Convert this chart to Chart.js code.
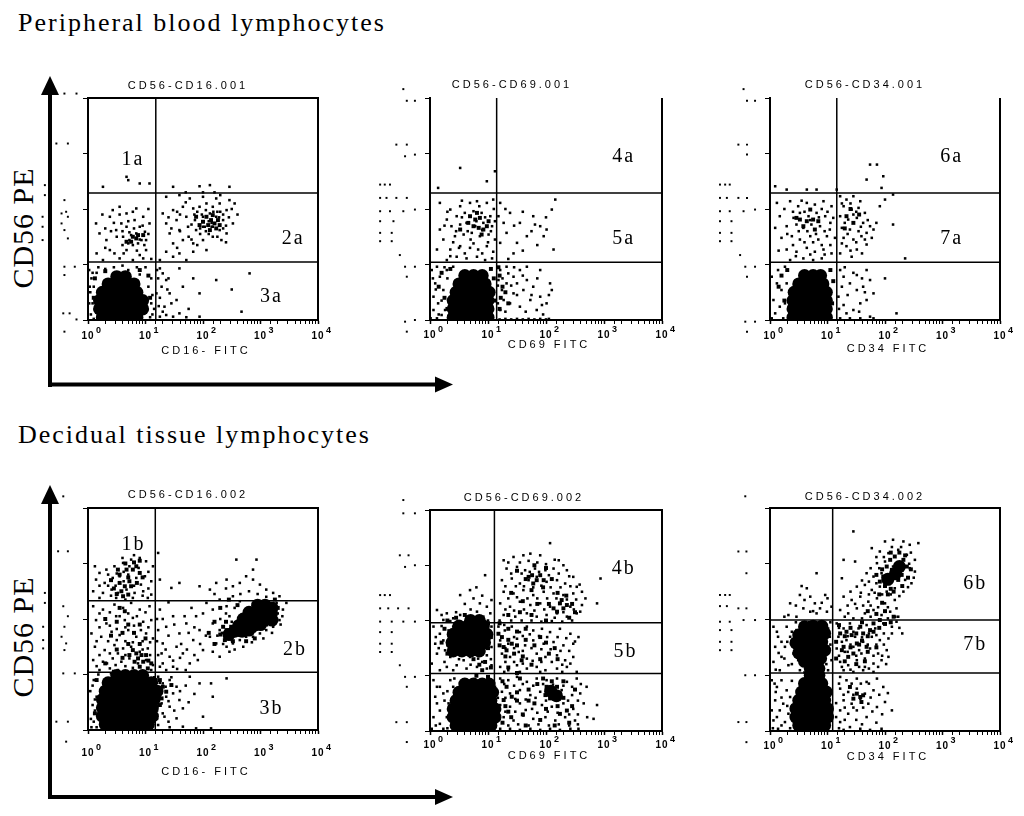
<!DOCTYPE html>
<html>
<head>
<meta charset="utf-8">
<script src="https://cdn.jsdelivr.net/npm/chart.js@4.4.1/dist/chart.umd.min.js"></script>
<style>
  body { margin: 0; background: #fff; width: 1024px; height: 816px; position: relative; overflow: hidden; }
  svg { position: absolute; left: 0; top: 0; }
  canvas { position: absolute; }
</style>
</head>
<body>
<svg width="1024" height="816">
  <g fill="#000">
    <rect x="48" y="92" width="4" height="295"/>
    <polygon points="50,76 41,95 59,95"/>
    <rect x="48" y="382.5" width="390" height="4"/>
    <polygon points="453,384.5 435,376.5 435,392.5"/>
    <rect x="48" y="501" width="4" height="298"/>
    <polygon points="50,485 41,504 59,504"/>
    <rect x="48" y="795" width="390" height="4"/>
    <polygon points="453,797 435,789 435,805"/>
  </g>
  <g font-family="'Liberation Serif', serif" fill="#000">
    <text x="18" y="31" font-size="26" letter-spacing="2">Peripheral blood lymphocytes</text>
    <text x="18" y="443" font-size="26" letter-spacing="2">Decidual tissue lymphocytes</text>
    <text transform="translate(33,228) rotate(-90)" text-anchor="middle" font-size="30" letter-spacing="1">CD56 PE</text>
    <text transform="translate(33,637) rotate(-90)" text-anchor="middle" font-size="30" letter-spacing="1">CD56 PE</text>
  </g>
</svg>
<script>
// events, in decades: [log10 FITC, log10 PE]
// "core" = solid black areas, "dense" = crowded spots, "dots" = single events,
// "off" = events piled up left of the 10^0 channel

const decades = [1, 10, 100, 1000, 10000];
const xTickExponents = ['0', '1', '2', '3', '4'];

// ---- peripheral blood, CD56 / CD16 ----
const pbCd16Gates = [15.1, 11.1, 195];
const pbCd16Core = [
  [0.25,0.05],[0.4,0.05],[0.55,0.05],[0.7,0.05],[0.85,0.05],
  [0.2,0.2],[0.35,0.2],[0.5,0.2],[0.65,0.2],[0.8,0.2],[0.95,0.2],
  [0.2,0.35],[0.35,0.35],[0.5,0.35],[0.65,0.35],[0.8,0.35],[0.95,0.35],
  [0.25,0.5],[0.4,0.5],[0.55,0.5],[0.7,0.5],[0.85,0.5],
  [0.35,0.65],[0.5,0.65],[0.65,0.65],[0.8,0.65],
  [0.5,0.78],[0.65,0.78]
];
const pbCd16Dense = [
  [0.78,1.50],[0.84,1.47],[0.87,1.53],[0.96,1.53],[0.67,1.41],[0.75,1.41],
  [2.06,1.86],[2.14,1.80],[2.20,1.74],[2.09,1.71],[2.23,1.65],[2.00,1.77],
  [2.26,1.80],[2.12,1.62],[1.94,1.71],[2.29,1.71],[1.88,1.86],[2.17,1.89],
  [0.1,0.4],[0.12,0.75],[1.05,0.8],[1.08,0.4],[0.3,0.88],[0.9,0.9]
];
const pbCd16Dots = [
  [0.05,0.1],[0.08,0.3],[0.04,0.5],[0.1,0.6],[0.06,0.75],[0.15,0.85],[0.3,0.92],[0.45,0.95],
  [0.7,0.9],[0.9,0.82],[1.05,0.6],[1.1,0.3],[1.12,0.1],[1.0,0.95],
  [0.02,0.3],[0.03,0.6],[0.08,0.85],[0.18,0.95],[0.6,0.98],[0.85,0.95],[1.1,0.75],[1.12,0.45],
  [1.15,0.2],[1.08,0.05],[0.1,0.02],[0.02,0.9],
  [1.25,0.93],[1.30,0.84],[1.36,0.72],[1.28,0.60],[1.42,0.48],[1.54,0.36],[1.33,0.24],[1.59,0.93],
  [1.83,0.75],[1.94,0.48],[2.23,0.72],[2.81,0.84],[2.67,0.15],[1.48,0.06],[1.71,0.05],[1.94,0.06],
  [1.25,0.06],[1.36,0.09],[1.59,0.12],[1.19,0.48],[1.22,0.75],
  [1.25,0.4],[1.3,0.15],[1.4,0.75],[1.45,0.3],[1.2,0.9],[1.65,0.6],[1.75,0.2],[2.5,0.55],[1.38,0.55],[1.23,0.25],
  [0.38,1.86],[0.55,2.04],[0.67,1.92],[0.84,2.01],[0.96,1.86],[0.20,1.56],[0.32,1.44],[0.49,1.62],
  [0.61,1.50],[0.72,1.44],[0.84,1.56],[0.90,1.68],[0.99,1.59],[1.01,1.44],[0.78,1.35],[0.67,1.26],
  [0.46,1.20],[0.38,1.26],[0.90,1.17],[1.01,1.26],[0.26,1.08],[0.55,1.11],[0.78,1.08],[0.96,1.11],
  [0.14,1.74],[1.07,1.74],[0.67,1.68],[0.81,1.80],[0.93,1.44],[0.75,1.53],[0.87,1.38],[0.70,1.38],
  [0.58,1.74],[0.43,1.98],
  [0.25,1.9],[0.45,1.75],[0.6,1.6],[0.7,1.78],[0.95,1.7],[1.05,1.55],[0.85,1.25],[0.6,1.35],
  [0.3,1.3],[0.5,1.5],[0.8,1.65],[0.72,1.58],[0.9,1.45],[0.98,1.35],[1.1,1.1],[0.15,1.2],
  [0.4,1.6],[0.55,1.9],[0.78,1.95],[1.05,2.0],[0.3,1.65],[0.62,1.2],
  [0.67,2.58],[0.70,2.52],[0.90,2.46],[0.26,2.40],[1.07,2.46],
  [1.48,2.40],[1.94,2.41],[2.12,2.43],[2.46,2.40],
  [1.36,2.22],[1.59,2.25],[1.77,2.19],[2.00,2.22],[2.23,2.19],[2.46,2.16],[2.55,2.10],
  [1.30,1.92],[1.48,1.98],[1.65,2.04],[1.83,2.01],[1.94,2.04],[2.06,2.10],[2.17,2.04],[2.29,2.10],[2.41,1.98],
  [1.36,1.74],[1.54,1.80],[1.71,1.86],[1.86,1.80],[2.00,1.86],[2.12,1.92],[2.23,1.86],[2.35,1.80],[2.52,1.74],
  [1.42,1.56],[1.59,1.62],[1.74,1.68],[1.88,1.62],[2.03,1.68],[2.17,1.68],[2.29,1.62],[2.41,1.56],
  [1.48,1.38],[1.65,1.44],[1.83,1.38],[2.00,1.44],[2.17,1.50],[2.32,1.44],
  [1.36,1.23],[1.59,1.20],[1.83,1.23],[2.06,1.26],[1.25,1.08],[1.71,1.08],[1.48,1.14],
  [1.9,1.95],[2.05,1.98],[2.3,1.95],[1.95,1.55],[2.1,1.55],[2.4,1.7],[1.8,1.72],[1.6,1.9],[2.25,1.5],[1.75,1.5],
  [1.45,1.65],[1.55,1.95],[1.7,2.12],[1.85,1.9],[1.95,1.65],[2.05,1.6],[2.15,1.75],[2.25,1.95],
  [2.35,1.65],[2.45,1.85],[2.6,1.9],[2.5,2.0],[1.8,1.45],[1.9,1.35],[2.4,1.4],[1.55,1.3],
  [2.0,2.3],[2.2,2.3],[1.7,2.3],[2.3,2.25],[1.4,1.85],[1.6,1.6],[2.28,1.85],[2.18,1.95],
  [2.1,1.78],[1.98,1.9],[2.35,1.9],[2.0,1.68],[2.15,1.68]
];
const pbCd16Off = [
  [-0.41,4.08],[-0.20,4.08],[-0.55,3.18],[-0.35,3.18],[-0.41,2.16],[-0.38,1.95],[-0.46,1.92],[-0.41,1.62],
  [-0.35,1.47],[-0.35,1.86],[-0.46,1.74],[-0.41,0.96],[-0.23,0.96],[-0.41,0.81],[-0.43,0.12],[-0.32,0.12],
  [-0.20,0.01],[-0.41,-0.21],[-0.75,2.43],[-0.75,2.25],[-0.79,1.86],[-0.79,1.68],[-0.79,1.44]
];

// ---- peripheral blood, CD56 / CD69 ----
const pbCd69Gates = [14.1, 11, 195];
const pbCd69Core = [
  [0.4,0.05],[0.55,0.05],[0.7,0.05],[0.85,0.05],[1.0,0.05],
  [0.4,0.2],[0.55,0.2],[0.7,0.2],[0.85,0.2],[1.0,0.2],
  [0.4,0.35],[0.55,0.35],[0.7,0.35],[0.85,0.35],[1.0,0.35],
  [0.45,0.5],[0.6,0.5],[0.75,0.5],[0.9,0.5],[1.02,0.5],
  [0.5,0.65],[0.65,0.65],[0.8,0.65],[0.95,0.65],
  [0.6,0.8],[0.75,0.8],[0.9,0.8]
];
const pbCd69Dense = [
  [0.69,1.87],[0.78,1.81],[0.86,1.84],[0.75,1.69],[0.84,1.66],[0.92,1.63],[0.98,1.69],[0.66,1.75],
  [0.89,1.54],[0.81,1.93],[1.01,1.78],[0.52,1.63],
  [1.2,0.8],[1.25,0.6],[1.22,0.4],[1.3,0.5],[1.18,0.95],[1.35,0.3],[1.2,0.2],
  [0.15,0.6],[0.25,0.4],[0.2,0.85],[0.3,0.2],[1.1,0.75],[1.12,0.35],[1.05,0.92],[0.35,0.92]
];
const pbCd69Dots = [
  [0.03,0.90],[0.09,0.66],[0.17,0.78],[0.06,0.42],[0.14,0.30],[0.23,0.54],[0.06,0.18],[0.20,0.09],
  [0.29,0.90],[0.40,0.96],[0.12,0.96],[0.26,0.18],[0.01,0.03],[0.12,0.03],[0.32,0.03],
  [0.1,0.55],[0.2,0.35],[0.05,0.75],[0.3,0.75],[0.15,0.1],[0.25,0.95],
  [1.2,0.01],[1.3,0.02],[1.4,0.01],[1.5,0.02],[1.6,0.01],[1.7,0.02],[1.8,0.01],[1.9,0.02],[2.0,0.01],[2.05,0.02],
  [1.21,0.90],[1.32,0.96],[1.44,0.78],[1.55,0.90],[1.67,0.72],[1.32,0.66],[1.24,0.54],[1.44,0.48],
  [1.61,0.54],[1.78,0.60],[1.90,0.42],[2.07,0.66],[2.10,0.54],[1.73,0.36],[1.38,0.30],[1.55,0.24],
  [1.84,0.18],[1.93,0.27],[1.21,0.18],[1.27,0.36],[1.50,0.66],[1.18,0.72],[1.35,0.84],[1.67,0.96],
  [1.90,0.90],[2.01,0.30],
  [1.25,0.75],[1.4,0.62],[1.5,0.45],[1.6,0.8],[1.75,0.45],[1.85,0.75],[1.45,0.95],[1.3,0.15],
  [1.65,0.15],[1.95,0.1],[2.05,0.45],[1.17,0.62],[1.17,0.3],
  [0.17,2.11],[0.35,1.99],[0.52,2.05],[0.69,2.11],[0.81,2.14],[0.98,2.11],[1.09,2.17],
  [0.29,1.81],[0.46,1.87],[0.60,1.93],[0.75,1.96],[0.89,1.93],[1.04,1.87],[1.12,1.78],
  [0.17,1.63],[0.37,1.69],[0.52,1.72],[0.63,1.75],[0.78,1.69],[0.92,1.75],[1.07,1.69],
  [0.23,1.45],[0.43,1.51],[0.58,1.54],[0.72,1.57],[0.86,1.51],[1.01,1.54],[1.12,1.45],
  [0.12,1.27],[0.35,1.27],[0.52,1.33],[0.69,1.30],[0.83,1.27],[0.98,1.33],[1.09,1.23],
  [0.29,1.08],[0.46,1.14],[0.63,1.11],[0.81,1.14],[0.95,1.08],[1.07,1.11],
  [0.3,1.95],[0.45,1.6],[0.55,1.85],[0.65,1.6],[0.7,1.45],[0.8,1.78],[0.9,1.62],[0.95,1.85],
  [1.05,1.6],[0.4,1.4],[0.6,1.2],[0.9,1.2],[1.0,1.4],[0.25,1.7],[0.55,2.15],[0.85,2.05],
  [1.1,2.0],[0.75,1.38],[0.5,1.3],[0.35,1.15],
  [0.52,2.74],[0.98,2.50],[1.12,2.68],[0.14,2.38],
  [1.21,2.11],[1.38,1.93],[1.55,1.75],[1.78,1.87],[1.90,1.69],[2.01,1.63],[2.10,1.99],[2.16,2.17],
  [1.50,1.39],[1.67,1.51],[1.96,1.51],[2.13,1.27],[1.32,1.57],[1.44,1.20],[1.27,1.75],[1.21,1.39],
  [1.18,1.87],[1.81,1.72],
  [1.3,2.0],[1.45,1.7],[1.6,1.95],[1.75,1.6],[1.85,1.35],[2.0,1.85],[1.6,1.25],[1.35,1.1]
];
const pbCd69Off = [
  [-0.46,4.16],[-0.40,3.95],[-0.26,3.95],[-0.58,3.16],[-0.40,3.16],[-0.43,2.95],[-0.26,2.98],
  [-0.86,2.44],[-0.78,2.44],[-0.69,2.44],[-0.86,2.20],[-0.75,2.20],[-0.58,2.20],[-0.40,2.20],
  [-0.86,1.96],[-0.69,1.96],[-0.46,1.96],[-0.26,1.99],[-0.86,1.78],[-0.63,1.78],[-0.86,1.57],
  [-0.66,1.57],[-0.86,1.42],[-0.66,1.42],[-0.52,1.17],[-0.43,0.96],[-0.26,0.96],[-0.40,0.78],
  [-0.43,-0.03],[-0.26,0.0],[-0.40,-0.21]
];

// ---- peripheral blood, CD56 / CD34 ----
const pbCd34Gates = [14.5, 11, 195];
const pbCd34Core = [
  [0.4,0.05],[0.55,0.05],[0.7,0.05],[0.85,0.05],[0.98,0.05],
  [0.4,0.2],[0.55,0.2],[0.7,0.2],[0.85,0.2],[0.98,0.2],
  [0.4,0.35],[0.55,0.35],[0.7,0.35],[0.85,0.35],[0.98,0.35],
  [0.42,0.5],[0.57,0.5],[0.72,0.5],[0.87,0.5],[0.98,0.5],
  [0.5,0.65],[0.65,0.65],[0.8,0.65],[0.92,0.65],
  [0.6,0.8],[0.75,0.8],[0.88,0.8]
];
const pbCd34Dense = [
  [0.52,1.81],[0.64,1.78],[0.75,1.81],[0.70,1.99],[0.84,1.78],[0.58,1.69],[0.78,1.63],[0.46,1.84],
  [1.33,1.87],[1.45,1.75],[1.40,2.0],[1.55,1.9],[1.30,1.65],
  [0.15,0.6],[0.25,0.35],[0.2,0.8],[1.08,0.3],[1.1,0.7],[0.3,0.9],[1.05,0.9]
];
const pbCd34Dots = [
  [0.03,0.78],[0.12,0.66],[0.20,0.54],[0.06,0.36],[0.17,0.24],[0.09,0.12],[0.26,0.30],[0.03,0.03],
  [0.23,0.03],[0.29,0.66],[0.14,0.90],[0.26,0.96],
  [1.22,0.90],[1.28,0.78],[1.39,0.66],[1.51,0.54],[1.62,0.60],[1.74,0.72],[1.80,0.48],[1.68,0.36],
  [1.57,0.30],[1.45,0.18],[1.33,0.12],[1.74,0.06],[1.22,0.03],[1.39,0.03],[1.57,0.03],[1.80,0.03],
  [2.0,0.75],[2.20,0.12],[1.19,0.42],[1.28,0.27],[1.68,0.90],[1.51,0.81],
  [1.25,0.6],[1.35,0.45],[1.45,0.85],[1.6,0.75],[1.55,0.15],[1.65,0.5],[1.3,0.95],[1.2,0.2],
  [0.09,2.41],[0.29,2.35],[0.64,2.35],[0.81,2.35],[1.16,2.35],
  [0.12,2.11],[0.35,2.14],[0.49,2.05],[0.64,2.11],[0.78,2.08],[0.93,2.14],[1.07,2.05],
  [0.17,1.87],[0.41,1.84],[0.52,1.93],[0.67,1.87],[0.81,1.93],[0.96,1.87],[1.10,1.84],
  [0.09,1.66],[0.29,1.69],[0.46,1.72],[0.58,1.66],[0.72,1.72],[0.87,1.69],[1.04,1.63],
  [0.20,1.48],[0.38,1.51],[0.52,1.45],[0.70,1.51],[0.84,1.45],[0.99,1.51],[1.13,1.48],
  [0.29,1.27],[0.46,1.23],[0.64,1.30],[0.78,1.23],[0.93,1.27],[1.07,1.20],
  [0.35,1.08],[0.58,1.11],[0.75,1.08],[0.90,1.11],
  [0.25,2.0],[0.4,1.95],[0.55,2.15],[0.7,1.8],[0.85,1.85],[1.0,1.95],[0.3,1.55],[0.5,1.6],
  [0.65,1.6],[0.8,1.55],[0.95,1.6],[1.05,1.75],[0.4,1.35],[0.6,1.4],[0.75,1.4],[0.9,1.35],
  [1.05,1.35],[0.45,1.15],[0.7,1.18],[0.95,1.18],[0.15,1.25],[0.6,1.95],[0.9,2.0],
  [1.22,2.23],[1.33,2.17],[1.45,2.23],[1.57,2.14],[1.28,2.05],[1.42,1.99],[1.54,2.02],[1.65,1.93],
  [1.22,1.87],[1.36,1.81],[1.51,1.84],[1.62,1.75],[1.74,1.69],[1.25,1.66],[1.39,1.63],[1.54,1.60],
  [1.68,1.57],[1.80,1.63],[1.28,1.48],[1.45,1.45],[1.59,1.51],[1.77,1.48],[1.33,1.33],[1.51,1.27],
  [1.68,1.36],[1.22,1.20],[1.42,1.14],
  [1.25,2.1],[1.4,2.1],[1.5,1.95],[1.3,1.75],[1.45,1.9],[1.58,1.68],[1.7,1.8],[1.35,1.55],
  [1.5,1.4],[1.65,1.45],[1.25,1.38],[1.4,1.25],[1.6,1.2],[1.85,1.75],
  [1.74,2.80],[1.86,2.80],[1.68,2.53],[1.97,2.59],[1.94,2.38],[2.14,2.26],[2.0,2.17],[1.91,2.05],
  [2.14,1.72],[2.35,1.11]
];
const pbCd34Off = [
  [-0.46,4.16],[-0.40,3.95],[-0.26,3.95],[-0.55,3.16],[-0.40,3.16],[-0.40,2.98],
  [-0.87,2.44],[-0.78,2.44],[-0.70,2.44],[-0.87,2.20],[-0.75,2.20],[-0.55,2.20],[-0.40,2.20],
  [-0.87,1.96],[-0.70,1.96],[-0.46,1.96],[-0.26,1.99],[-0.87,1.78],[-0.67,1.78],[-0.87,1.57],
  [-0.67,1.57],[-0.87,1.42],[-0.67,1.42],[-0.52,1.17],[-0.43,0.96],[-0.26,0.96],[-0.40,0.78],
  [-0.43,-0.03],[-0.26,-0.03],[-0.40,-0.21]
];

// ---- decidual tissue, CD56 / CD16 ----
const dtCd16Gates = [14.8, 11, 214];
const dtCd16Core = [
  [0.3,0.1],[0.45,0.1],[0.6,0.1],[0.75,0.1],[0.9,0.1],[1.05,0.1],
  [0.25,0.25],[0.4,0.25],[0.55,0.25],[0.7,0.25],[0.85,0.25],[1.0,0.25],[1.12,0.25],
  [0.25,0.4],[0.4,0.4],[0.55,0.4],[0.7,0.4],[0.85,0.4],[1.0,0.4],[1.12,0.4],
  [0.25,0.55],[0.4,0.55],[0.55,0.55],[0.7,0.55],[0.85,0.55],[1.0,0.55],[1.15,0.55],
  [0.3,0.7],[0.45,0.7],[0.6,0.7],[0.75,0.7],[0.9,0.7],[1.05,0.7],[1.2,0.7],
  [0.35,0.85],[0.5,0.85],[0.65,0.85],[0.8,0.85],[0.95,0.85],[1.1,0.85],
  [0.5,0.98],[0.65,0.98],[0.8,0.98],[0.95,0.98],
  [2.95,2.25],[3.08,2.25],[3.2,2.2],[2.8,2.12],[2.93,2.12],[3.06,2.12],[3.19,2.1],
  [2.7,2.0],[2.83,2.0],[2.96,2.0],[3.09,2.0],[3.2,1.98],[2.62,1.88],[2.75,1.88],[2.88,1.88],[3.0,1.9],
  [2.55,1.78],[2.68,1.78],[2.8,1.8],[2.45,1.72]
];
const dtCd16Dense = [
  [0.78,1.44],[0.84,1.38],[0.93,1.35],[0.87,1.29],[0.96,1.23],[1.01,1.35],[0.81,1.23],[0.72,1.35],
  [0.90,1.14],[1.04,1.11],[1.10,1.20],[0.55,2.20],[0.64,2.14],
  [0.55,2.65],[0.64,2.59],[0.72,2.68],[0.58,2.50],[0.70,2.44],[0.78,2.89],[0.84,2.95],[0.67,2.89],
  [0.90,2.83],[0.75,2.59],[0.52,2.89],[0.61,2.41],
  [0.45,2.55],[0.55,2.8],[0.7,2.75],[0.85,2.65],[0.95,2.75],[0.4,2.7],[0.65,3.0],[0.8,3.02],[0.9,3.05],[0.5,2.45],
  [0.3,2.0],[0.5,1.95],[0.7,1.9],[0.9,1.9],[0.4,1.7],[0.6,1.75],[0.8,1.75],[1.0,1.65],[0.5,1.45],
  [0.7,1.55],[0.9,1.55],[0.3,1.2],[0.6,1.3],[1.05,1.25],[0.45,1.05],
  [2.41,1.80],[2.49,1.86],[2.55,1.71],[2.64,1.86],[2.70,1.77],[2.46,1.71],[2.35,1.86],[2.61,1.95],
  [2.38,1.62],[2.52,1.6],[2.3,1.72],
  [2.2,1.95],[2.3,2.2],[2.45,2.35],[2.6,2.25],[2.4,1.95],[2.75,1.6],[2.9,1.65],[3.1,1.9],[3.3,2.2],
  [3.25,2.35],[2.1,1.75],[2.2,1.55],
  [1.25,0.90],[1.30,0.78],[1.36,0.69],[1.45,0.81],[1.28,0.57],
  [1.15,0.3],[1.2,0.65],[1.25,0.45],[1.18,0.9],[0.15,0.9],[0.12,0.3]
];
const dtCd16Dots = [
  [0.05,0.2],[0.08,0.45],[0.04,0.7],[0.1,0.9],[0.06,0.05],[0.12,0.35],[0.15,0.6],
  [0.1,0.15],[0.12,0.55],[0.08,0.8],[0.18,1.0],[0.4,1.02],[1.15,0.95],[1.2,0.5],[1.25,0.85],[1.15,0.15],[0.15,0.05],
  [0.09,2.23],[0.26,2.17],[0.46,2.26],[0.61,2.20],[0.75,2.29],[0.90,2.17],[1.07,2.23],
  [0.14,1.98],[0.32,1.92],[0.49,2.05],[0.64,1.98],[0.78,2.02],[0.96,1.95],[1.10,1.98],
  [0.06,1.74],[0.23,1.68],[0.41,1.77],[0.55,1.71],[0.70,1.80],[0.84,1.68],[1.01,1.74],[1.13,1.65],
  [0.12,1.50],[0.29,1.44],[0.46,1.53],[0.61,1.47],[0.75,1.50],[0.90,1.41],[1.04,1.47],
  [0.09,1.26],[0.26,1.23],[0.43,1.29],[0.58,1.23],[0.72,1.29],[0.87,1.20],[1.01,1.26],[1.13,1.17],
  [0.20,1.08],[0.38,1.11],[0.52,1.08],
  [0.2,2.1],[0.38,2.12],[0.55,2.05],[0.7,2.1],[0.85,2.05],[1.0,2.12],[0.2,1.85],[0.38,1.88],
  [0.5,1.82],[0.65,1.85],[0.8,1.88],[0.92,1.8],[1.05,1.85],[0.15,1.6],[0.35,1.6],[0.5,1.62],
  [0.65,1.6],[0.78,1.58],[0.95,1.6],[1.08,1.58],[0.2,1.35],[0.38,1.38],[0.52,1.38],[0.65,1.35],
  [0.95,1.45],[1.08,1.35],[0.15,1.15],[0.33,1.2],[0.48,1.17],[0.65,1.15],[0.78,1.12],[0.98,1.05],[1.1,1.08],
  [0.12,2.95],[0.20,2.83],[0.32,2.89],[0.46,2.95],[0.61,3.01],[0.75,3.07],[0.90,3.10],[1.01,3.04],
  [1.13,2.95],[1.22,3.19],
  [0.14,2.71],[0.29,2.65],[0.43,2.74],[0.55,2.77],[0.70,2.80],[0.84,2.74],[0.99,2.77],[1.10,2.68],
  [0.09,2.50],[0.26,2.47],[0.41,2.53],[0.52,2.47],[0.67,2.53],[0.81,2.47],[0.96,2.50],[1.10,2.44],
  [0.20,2.38],[0.49,2.38],[0.78,2.38],[1.04,2.38],
  [0.2,2.6],[0.35,2.6],[0.48,2.6],[0.62,2.68],[0.8,2.6],[0.92,2.62],[1.05,2.55],[0.35,2.8],
  [0.5,2.82],[0.62,2.85],[0.72,2.95],[0.88,2.92],[1.05,2.85],[0.6,3.1],[0.8,3.15],[0.95,2.42],
  [0.4,2.42],[0.65,2.35],
  [1.94,2.59],[2.12,2.53],[2.23,2.65],[2.41,2.71],[2.52,2.59],[2.64,2.65],[2.75,2.77],[2.87,2.71],
  [2.99,2.62],[3.10,2.53],[3.22,2.47],[3.33,2.41],[3.45,2.29],[3.39,2.17],[2.58,3.07],[2.93,3.07],[2.87,2.89],
  [2.06,2.29],[2.17,2.17],[2.29,2.35],[2.41,2.23],[2.52,2.41],[2.64,2.32],[2.46,2.05],[2.17,1.92],
  [2.29,1.80],[2.12,1.68],[2.23,1.56],[2.41,1.50],[2.52,1.56],[2.64,1.62],[2.75,1.68],[2.87,1.68],
  [2.99,1.74],[3.10,1.80],[3.22,1.86],[3.33,1.98],[3.28,2.29],[2.29,1.32],[2.46,1.41],[2.17,1.41],
  [2.58,1.80],[2.38,1.68],
  [2.3,2.0],[2.4,2.1],[2.5,1.95],[2.55,2.2],[2.65,2.45],[2.8,2.5],[2.95,2.45],[3.1,2.4],
  [3.3,2.1],[3.35,1.9],[3.2,1.75],[3.05,1.65],[2.85,1.58],[2.7,1.5],[2.55,1.45],[2.35,1.55],
  [2.25,1.7],[2.33,1.75],[2.5,1.62],[2.62,1.7],[2.78,1.72],[2.9,1.78],[3.38,2.05],[2.2,2.45],[2.4,2.55],
  [1.25,2.17],[1.36,1.86],[1.48,2.05],[1.59,1.74],[1.71,1.92],[1.83,1.62],[1.94,1.80],[1.30,1.56],
  [1.42,1.32],[1.54,1.50],[1.65,1.38],[1.77,1.20],[1.25,1.14],[1.36,1.08],[1.48,1.14],[1.68,2.05],
  [1.88,2.05],[2.00,1.44],[1.91,1.26],[1.22,1.80],[1.28,1.38],[1.59,2.65],[1.45,2.56],[1.25,2.71],
  [1.3,2.0],[1.4,1.7],[1.5,1.9],[1.62,1.55],[1.75,1.75],[1.85,1.85],[1.95,1.55],[2.05,1.7],
  [1.35,1.45],[1.48,1.25],[1.6,1.3],[1.72,1.45],[1.85,1.35],[1.3,1.2],[1.55,1.1],[1.7,1.08],
  [1.4,2.3],[1.8,2.2],[2.0,2.1],[1.2,1.6],[1.22,1.35],[1.2,2.0],
  [1.22,0.96],[1.30,0.84],[1.42,0.90],[1.54,0.78],[1.25,0.72],[1.36,0.60],[1.48,0.66],[1.59,0.54],
  [1.28,0.48],[1.42,0.42],[1.65,0.39],[1.33,0.24],[1.54,0.21],[1.77,0.96],[1.94,0.84],[2.14,0.84],
  [2.17,0.60],[2.41,0.93],[2.14,0.03],[2.00,0.24],[1.22,0.09],[1.42,0.05],[1.65,0.06],[1.88,0.03],
  [1.2,0.85],[1.25,0.6],[1.35,0.78],[1.4,0.52],[1.45,0.95],[1.5,0.35],[1.6,0.7],[1.7,0.8],
  [1.2,0.35],[1.3,0.3],[1.4,0.15],[1.75,0.5],[1.85,0.65],[1.2,0.2]
];
const dtCd16Off = [
  [-0.52,3.22],[-0.35,3.22],[-0.43,2.23],[-0.35,2.05],[-0.41,1.86],[-0.46,1.68],[-0.38,1.56],
  [-0.41,1.44],[-0.43,1.02],[-0.23,1.02],[-0.55,0.15],[-0.35,0.15],[-0.38,-0.21],[-0.75,2.47],
  [-0.75,2.29],[-0.78,1.86],[-0.78,1.62],[-0.78,1.47],[-0.43,4.21]
];

// ---- decidual tissue, CD56 / CD69 ----
const dtCd69Gates = [12.9, 11, 91];
const dtCd69Core = [
  [0.4,1.45],[0.55,1.45],[0.7,1.45],[0.85,1.45],
  [0.38,1.6],[0.52,1.6],[0.66,1.6],[0.8,1.6],[0.94,1.6],
  [0.4,1.75],[0.55,1.75],[0.7,1.75],[0.85,1.75],[0.98,1.75],
  [0.5,1.9],[0.65,1.9],[0.8,1.9],[0.92,1.9],[0.7,2.0],[0.85,2.0],
  [0.45,0.1],[0.6,0.1],[0.75,0.1],[0.9,0.1],[1.05,0.1],
  [0.4,0.25],[0.55,0.25],[0.7,0.25],[0.85,0.25],[1.0,0.25],[1.12,0.25],
  [0.4,0.4],[0.55,0.4],[0.7,0.4],[0.85,0.4],[1.0,0.4],[1.12,0.4],
  [0.45,0.55],[0.6,0.55],[0.75,0.55],[0.9,0.55],[1.05,0.55],
  [0.5,0.7],[0.65,0.7],[0.8,0.7],[0.95,0.7],[1.08,0.7],
  [0.6,0.85],[0.75,0.85],[0.9,0.85],[1.02,0.85],
  [2.08,0.72],[2.18,0.64]
];
const dtCd69Dense = [
  [1.76,2.82],[1.84,2.73],[1.90,2.82],[1.78,2.67],[1.96,2.73],[1.70,2.79],[2.24,2.31],[2.30,2.22],
  [2.36,2.28],[2.19,2.16],[2.27,2.37],[2.13,2.22],
  [1.5,2.9],[1.65,2.75],[1.75,2.55],[1.95,2.6],[2.1,2.75],[2.2,2.5],[2.35,2.45],[2.45,2.3],
  [2.5,2.15],[1.4,2.5],[1.6,2.35],[1.85,2.3],[2.05,2.3],[1.55,2.15],[1.75,2.1],[2.0,2.0],
  [1.35,2.1],[2.4,2.05],[1.8,3.0],[2.0,2.95],
  [1.18,1.76],[1.24,1.70],[1.27,1.52],[1.32,1.46],[1.41,1.58],[1.58,1.28],
  [1.2,1.95],[1.35,1.85],[1.5,1.8],[1.65,1.85],[1.2,1.55],[1.35,1.65],[1.5,1.55],[1.65,1.65],
  [1.8,1.55],[1.3,1.35],[1.45,1.4],[1.6,1.35],[1.75,1.2],[1.9,1.3],[2.05,1.4],[2.2,1.3],
  [1.35,1.15],[1.5,1.05],[2.0,1.6],[2.15,1.5],[1.9,1.7],
  [0.2,1.6],[0.3,1.4],[0.25,1.85],[1.0,1.5],[1.05,1.7],[1.0,1.95],[0.3,2.0],[0.45,2.05],[0.6,2.1],
  [0.8,1.0],[0.9,1.1],[0.95,1.25],[1.0,0.98],[0.85,1.2],[1.05,1.15],[0.75,1.3],
  [2.01,0.80],[2.10,0.74],[2.16,0.62],[2.07,0.59],[2.24,0.68],[2.19,0.80],[1.99,0.65],[1.32,0.80],
  [1.41,0.62],[1.27,0.56],[2.24,0.31],[2.36,0.37],[1.5,0.7],[1.7,0.55],[1.85,0.85],[1.35,0.35],
  [1.25,0.9],[1.3,0.45],[1.4,0.25],[1.5,0.55],[1.6,0.3],[1.7,0.75],[1.8,0.5],[1.9,0.2],
  [2.0,0.4],[2.1,0.9],[2.2,0.45],[2.3,0.6],[2.4,0.15],[2.45,0.45],[2.5,0.75],[2.3,0.9],
  [1.55,0.95],[1.95,0.95],[1.25,0.15],[1.65,0.1],[2.15,0.1]
];
const dtCd69Dots = [
  [1.27,3.09],[1.44,3.15],[1.61,3.18],[1.73,3.21],[1.90,3.18],[2.07,3.40],[2.22,3.09],[2.30,3.00],
  [1.32,2.94],[1.50,2.97],[1.64,2.91],[1.81,2.94],[1.99,2.91],[2.13,2.94],[2.36,2.91],[2.47,2.79],
  [1.24,2.73],[1.41,2.76],[1.55,2.67],[1.70,2.73],[1.84,2.79],[2.01,2.70],[2.19,2.73],[2.33,2.67],[2.53,2.61],
  [1.27,2.52],[1.44,2.49],[1.61,2.55],[1.78,2.46],[1.96,2.52],[2.13,2.49],[2.30,2.46],[2.47,2.49],[2.62,2.52],
  [1.21,2.31],[1.38,2.25],[1.55,2.34],[1.73,2.28],[1.90,2.31],[2.07,2.25],[2.24,2.31],[2.42,2.25],[2.59,2.16],
  [1.27,2.10],[1.47,2.07],[1.67,2.13],[1.84,2.07],[2.01,2.10],[2.19,2.13],[2.36,2.07],[2.53,2.13],
  [2.94,2.76],[2.88,2.31],
  [1.35,3.05],[1.55,3.05],[1.7,3.08],[1.85,3.05],[2.0,3.02],[2.15,3.1],[1.4,2.85],[1.58,2.85],
  [1.72,2.88],[1.88,2.88],[2.05,2.82],[2.22,2.85],[2.4,2.8],[1.3,2.62],[1.48,2.62],[1.62,2.62],
  [1.78,2.6],[1.92,2.63],[2.08,2.6],[2.25,2.6],[2.42,2.62],[2.58,2.65],[1.35,2.4],[1.5,2.42],
  [1.68,2.4],[1.85,2.4],[2.02,2.4],[2.18,2.4],[2.36,2.38],[2.52,2.38],[2.68,2.4],[1.3,2.2],
  [1.45,2.18],[1.62,2.2],[1.8,2.18],[1.97,2.2],[2.15,2.05],[2.3,2.15],[2.48,2.2],[2.62,2.28],
  [1.2,2.0],[1.4,2.0],[1.58,2.0],[1.75,2.0],[1.92,1.98],[2.1,1.99],[2.28,1.98],[2.45,2.0],
  [0.52,2.46],[0.69,2.55],[0.75,2.40],[0.95,2.82],[0.86,2.31],[0.98,2.25],[0.12,2.19],[0.29,2.13],
  [0.52,2.10],[0.81,2.16],[1.04,2.13],[0.63,2.07],[0.40,2.04],[0.23,2.01],[0.92,2.07],[1.06,2.37],
  [0.2,2.1],[0.45,2.15],[0.7,2.2],[0.9,2.45],[1.0,2.0],[0.6,2.3],[0.35,1.99],[0.8,2.6],
  [0.06,1.89],[0.17,1.76],[0.09,1.58],[0.23,1.64],[0.32,1.82],[0.40,1.89],[0.12,1.40],[0.26,1.46],
  [0.35,1.34],[0.46,1.40],[0.58,1.28],[0.69,1.34],[0.83,1.31],[0.98,1.37],[1.06,1.52],[1.04,1.76],
  [1.06,1.89],[0.98,1.92],[0.52,1.89],[0.29,1.16],[0.46,1.19],[0.63,1.13],[0.81,1.16],[0.98,1.13],
  [0.17,1.10],[0.03,1.22],[0.40,1.58],[1.06,1.19],
  [0.15,1.5],[0.3,1.55],[0.35,1.75],[0.45,1.5],[0.5,1.3],[0.65,1.45],[0.8,1.42],[0.95,1.5],
  [1.0,1.65],[0.95,1.85],[0.45,1.85],[0.25,1.25],[0.4,1.1],[0.7,1.2],[0.9,1.25],[1.05,1.3],
  [0.2,1.9],[0.55,1.4],[0.85,1.95],[0.1,1.7],
  [1.18,1.89],[1.29,1.82],[1.41,1.89],[1.55,1.79],[1.67,1.89],[1.78,1.82],[1.93,1.85],[2.07,1.79],
  [2.24,1.85],[2.42,1.76],[2.56,1.70],
  [1.21,1.64],[1.35,1.58],[1.50,1.67],[1.64,1.55],[1.78,1.64],[1.96,1.58],[2.13,1.61],[2.30,1.55],[2.47,1.58],
  [1.24,1.40],[1.38,1.34],[1.53,1.43],[1.67,1.31],[1.84,1.40],[1.99,1.34],[2.19,1.37],[2.33,1.28],[2.47,1.34],
  [1.21,1.16],[1.35,1.10],[1.50,1.19],[1.67,1.13],[1.84,1.16],[1.99,1.10],[2.19,1.13],[2.36,1.16],[2.53,1.07],
  [1.28,1.92],[1.45,1.7],[1.6,1.72],[1.72,1.75],[1.88,1.72],[2.02,1.7],[2.2,1.7],[2.35,1.68],
  [2.5,1.62],[1.3,1.5],[1.45,1.5],[1.6,1.45],[1.75,1.5],[1.92,1.48],[2.08,1.48],[2.25,1.45],
  [2.4,1.45],[1.3,1.25],[1.45,1.25],[1.6,1.22],[1.77,1.27],[1.92,1.25],[2.1,1.25],[2.28,1.2],
  [2.42,1.22],[1.28,1.07],[1.55,1.07],[1.9,1.07],[2.28,1.07],
  [1.21,0.95],[1.35,0.92],[1.50,0.98],[1.67,0.89],[1.84,0.95],[2.01,0.92],[2.19,0.95],[2.36,0.89],[2.53,0.95],
  [1.24,0.71],[1.38,0.68],[1.55,0.74],[1.73,0.65],[1.90,0.71],[2.10,0.68],[2.27,0.74],[2.45,0.65],[2.59,0.68],
  [1.21,0.47],[1.38,0.44],[1.55,0.50],[1.76,0.40],[1.93,0.47],[2.10,0.44],[2.30,0.50],[2.47,0.40],
  [1.27,0.25],[1.44,0.19],[1.61,0.28],[1.78,0.22],[1.99,0.25],[2.16,0.19],[2.33,0.25],[2.50,0.19],
  [1.21,0.04],[1.38,0.04],[1.55,0.02],[1.73,0.04],[1.90,0.02],[2.07,0.04],[2.24,0.02],[2.42,0.04],[2.56,0.04],
  [2.88,0.47],[2.82,0.22],[2.71,0.25],
  [1.28,0.85],[1.45,0.82],[1.6,0.85],[1.78,0.82],[1.95,0.85],[2.12,0.84],[2.3,0.82],[2.45,0.8],
  [2.6,0.85],[1.3,0.6],[1.47,0.58],[1.65,0.57],[1.82,0.6],[2.0,0.55],[2.2,0.56],[2.38,0.55],
  [2.55,0.55],[1.3,0.35],[1.47,0.35],[1.65,0.38],[1.85,0.33],[2.03,0.35],[2.2,0.33],[2.4,0.3],
  [2.55,0.3],[1.35,0.1],[1.52,0.12],[1.7,0.1],[1.87,0.12],[2.05,0.1],[2.22,0.12],[2.4,0.1],
  [2.55,0.12],[2.65,0.5],[2.7,0.8],[1.17,0.6],[1.17,0.3],
  [0.06,0.92],[0.17,0.80],[0.09,0.62],[0.23,0.68],[0.32,0.50],[0.17,0.37],[0.06,0.25],[0.29,0.25],
  [0.17,0.13],[0.37,0.10],[0.03,0.04],[0.23,0.04],[0.35,0.92],[0.40,0.80],
  [0.12,0.5],[0.25,0.55],[0.12,0.8],[0.3,0.72],[0.1,0.1],[0.3,0.05],[0.42,0.95],[1.12,0.8]
];
const dtCd69Off = [
  [-0.46,4.18],[-0.46,3.94],[-0.26,3.94],[-0.52,3.18],[-0.37,3.18],[-0.43,2.97],[-0.26,3.00],
  [-0.86,2.46],[-0.78,2.46],[-0.69,2.46],[-0.86,2.22],[-0.72,2.22],[-0.55,2.22],[-0.37,2.22],
  [-0.86,1.98],[-0.66,1.98],[-0.46,1.98],[-0.26,1.98],[-0.86,1.79],[-0.66,1.79],[-0.86,1.58],
  [-0.66,1.58],[-0.86,1.43],[-0.66,1.43],[-0.52,1.19],[-0.43,0.98],[-0.26,0.98],[-0.40,0.80],
  [-0.58,0.16],[-0.40,0.16],[-0.40,-0.20]
];

// ---- decidual tissue, CD56 / CD34 ----
const dtCd34Gates = [12.3, 11, 98];
const dtCd34Core = [
  [0.5,0.1],[0.65,0.1],[0.8,0.1],[0.95,0.1],
  [0.45,0.25],[0.6,0.25],[0.75,0.25],[0.9,0.25],[1.0,0.25],
  [0.45,0.4],[0.6,0.4],[0.75,0.4],[0.9,0.4],[1.0,0.4],
  [0.5,0.55],[0.65,0.55],[0.8,0.55],[0.95,0.55],
  [0.55,0.7],[0.7,0.7],[0.85,0.7],[0.98,0.7],
  [0.6,0.85],[0.75,0.85],[0.9,0.85],
  [0.7,1.0],[0.85,1.0],[0.7,1.12],[0.85,1.12],
  [0.6,1.25],[0.75,1.25],[0.88,1.3],[0.5,1.4],[0.65,1.4],[0.8,1.42],[0.95,1.45],
  [0.45,1.58],[0.6,1.55],[0.75,1.58],[0.9,1.6],[0.5,1.72],[0.65,1.72],[0.8,1.75],[0.95,1.75],
  [0.6,1.87],[0.75,1.88],[0.9,1.88],
  [2.05,2.72],[2.18,2.82],[2.25,2.95]
];
const dtCd34Dense = [
  [2.03,2.95],[2.12,2.89],[2.20,2.98],[2.26,2.86],[2.32,3.07],[2.14,2.77],[2.23,2.71],[2.06,2.65],
  [2.17,3.13],[2.38,2.95],[1.97,2.77],[2.29,2.80],[1.91,2.68],[2.09,3.07],
  [1.9,2.45],[2.0,2.6],[2.15,2.5],[2.3,2.6],[2.4,2.75],[2.45,2.9],[2.35,3.15],[2.25,3.2],
  [2.1,3.2],[1.95,2.9],[1.85,2.8],
  [0.52,1.75],[0.61,1.69],[0.70,1.78],[0.78,1.72],[0.64,1.60],[0.75,1.57],[0.84,1.66],[0.87,1.87],
  [0.96,1.78],[0.72,1.39],[0.81,1.27],[0.75,1.15],[0.87,1.21],[0.64,1.24],[0.46,1.69],[0.58,1.84],[0.93,1.39],
  [1.22,1.75],[1.33,1.78],[1.42,1.72],[1.51,1.57],[1.62,1.75],[1.74,1.81],[1.80,1.93],[1.68,1.51],
  [1.28,1.51],[1.45,1.39],[1.57,1.87],[1.91,1.99],[1.36,1.33],
  [1.2,1.9],[1.3,1.7],[1.4,1.85],[1.5,1.75],[1.6,1.62],[1.7,1.7],[1.8,1.78],[1.9,1.85],
  [2.0,1.92],[1.25,1.45],[1.4,1.5],[1.55,1.55],[1.7,1.42],[1.85,1.5],[1.3,1.25],[1.5,1.2],
  [1.65,1.25],[1.15,1.6],[1.15,1.3],[2.1,1.95],[2.15,2.05],[2.0,2.15],[1.85,2.1],[1.95,2.3],
  [2.05,2.45],[2.1,2.55],[1.7,2.15],[1.6,1.95],
  [1.51,0.67],[1.57,0.61],[1.62,0.64],[1.45,0.58],[1.59,0.52],[1.39,0.79]
];
const dtCd34Dots = [
  [1.45,3.58],[1.77,3.28],[2.00,3.40],[2.14,3.43],[2.32,3.40],[2.43,3.34],[2.58,3.37],
  [1.91,3.22],[2.06,3.19],[2.23,3.25],[2.38,3.16],[2.52,3.07],
  [1.86,3.01],[2.00,3.04],[2.14,2.95],[2.29,3.01],[2.43,2.92],[2.52,2.86],
  [1.68,2.83],[1.80,2.77],[1.94,2.83],[2.06,2.74],[2.20,2.80],[2.35,2.71],[2.46,2.65],
  [1.51,2.59],[1.65,2.62],[1.77,2.53],[1.91,2.59],[2.03,2.50],[2.17,2.56],[2.32,2.50],
  [1.28,2.41],[1.42,2.35],[1.57,2.41],[1.71,2.32],[1.86,2.38],[2.00,2.29],[2.17,2.35],
  [1.22,2.17],[1.36,2.11],[1.51,2.20],[1.65,2.11],[1.80,2.17],[1.94,2.08],[2.09,2.14],[2.23,2.05],
  [1.28,3.07],[1.48,3.04],[1.25,2.74],[0.81,2.83],
  [1.85,3.12],[1.98,3.12],[2.12,3.3],[2.28,3.3],[2.45,3.2],[1.75,2.92],[1.9,2.92],[2.42,3.0],
  [2.5,2.75],[1.6,2.7],[1.72,2.68],[1.85,2.65],[2.4,2.58],[1.58,2.48],[1.72,2.45],[1.82,2.48],
  [1.95,2.45],[2.1,2.45],[2.25,2.42],[1.35,2.25],[1.48,2.28],[1.62,2.25],[1.75,2.25],[1.88,2.22],
  [2.05,2.22],[2.2,2.2],[1.4,2.5],[1.3,2.05],[1.45,2.02],[1.6,2.02],[1.75,2.05],[1.9,2.0],[2.05,2.02],[2.18,2.05],
  [0.64,2.56],[0.52,2.44],[0.70,2.41],[0.35,2.29],[0.58,2.20],[0.78,2.29],[0.96,2.44],[0.99,2.14],
  [0.81,2.11],[0.32,2.08],[0.46,2.05],[0.70,2.14],[0.87,2.20],[1.07,2.23],
  [0.45,2.25],[0.6,2.35],[0.75,2.15],[0.9,2.3],[0.55,2.6],[0.25,2.05],[1.0,2.38],
  [0.06,1.87],[0.14,1.69],[0.09,1.51],[0.20,1.33],[0.06,1.24],[0.29,1.87],[0.35,1.69],[0.26,1.51],
  [0.41,1.39],[0.32,1.18],[0.46,1.81],[0.52,1.63],[0.58,1.48],[0.49,1.27],[0.64,1.87],[0.72,1.69],
  [0.67,1.51],[0.75,1.33],[0.70,1.15],[0.84,1.81],[0.90,1.63],[0.81,1.45],[0.93,1.30],[0.87,1.12],
  [1.01,1.84],[1.04,1.69],[0.99,1.48],[1.07,1.27],[1.01,1.09],[0.17,1.09],[0.52,1.09],
  [0.12,1.78],[0.2,1.6],[0.15,1.4],[0.3,1.6],[0.25,1.3],[0.38,1.78],[0.42,1.5],[0.38,1.2],
  [0.55,1.55],[0.6,1.35],[0.55,1.2],[0.68,1.95],[0.8,1.5],[0.95,1.7],[1.05,1.55],[0.98,1.2],
  [0.6,1.05],[0.85,1.4],[0.1,1.1],[0.45,1.95],[0.75,1.95],[1.05,1.95],
  [1.16,1.93],[1.28,1.84],[1.39,1.93],[1.54,1.84],[1.68,1.90],[1.83,1.84],[1.97,1.93],[2.12,1.87],[2.20,1.96],
  [1.19,1.69],[1.33,1.63],[1.48,1.69],[1.62,1.60],[1.77,1.69],[1.91,1.63],[2.06,1.66],
  [1.16,1.48],[1.30,1.42],[1.45,1.51],[1.59,1.39],[1.74,1.48],[1.88,1.39],[2.03,1.45],
  [1.22,1.24],[1.36,1.18],[1.51,1.27],[1.65,1.15],[1.80,1.21],[1.94,1.27],[2.06,1.33],
  [1.28,1.09],[1.45,1.06],[1.62,1.09],[1.80,1.06],
  [1.2,1.85],[1.35,1.7],[1.45,1.78],[1.6,1.68],[1.72,1.75],[1.85,1.72],[1.98,1.75],[2.12,1.75],
  [1.25,1.6],[1.4,1.55],[1.55,1.45],[1.7,1.55],[1.85,1.55],[1.98,1.55],[1.2,1.35],[1.35,1.42],
  [1.5,1.35],[1.65,1.3],[1.8,1.35],[1.95,1.35],[1.25,1.15],[1.4,1.1],[1.55,1.15],[1.72,1.12],
  [1.88,1.15],[2.02,1.2],[2.25,1.85],[2.3,1.75],
  [1.22,0.97],[1.33,0.91],[1.51,0.94],[1.68,0.88],[1.86,0.94],[1.22,0.76],[1.36,0.70],[1.51,0.76],
  [1.65,0.67],[1.80,0.73],[1.97,0.79],[1.28,0.55],[1.42,0.49],[1.57,0.58],[1.71,0.49],[1.86,0.43],
  [2.00,0.52],[2.12,0.37],[1.22,0.37],[1.36,0.31],[1.51,0.37],[1.68,0.25],[1.22,0.16],[1.39,0.07],
  [1.57,0.04],[1.74,0.02],[1.94,0.04],[1.28,0.02],
  [1.2,0.85],[1.28,0.65],[1.42,0.85],[1.45,0.65],[1.58,0.85],[1.72,0.85],[1.75,0.6],[1.9,0.65],
  [2.05,0.68],[1.3,0.42],[1.45,0.42],[1.62,0.42],[1.78,0.35],[1.95,0.3],[1.3,0.2],[1.5,0.2],
  [1.6,0.12],[1.85,0.15],[1.2,0.05],[1.15,0.5],[1.15,0.25],
  [0.03,0.91],[0.12,0.79],[0.20,0.91],[0.29,0.73],[0.09,0.55],[0.23,0.49],[0.17,0.37],[0.06,0.19],
  [0.26,0.16],[0.14,0.04],[0.32,0.31],[0.03,0.37],[0.35,0.61],
  [0.1,0.7],[0.2,0.6],[0.3,0.45],[0.12,0.25],[0.2,0.1],[0.35,0.05],[0.08,0.85],[0.38,0.9],[0.05,0.05]
];
const dtCd34Off = [
  [-0.43,4.21],[-0.55,3.22],[-0.41,3.22],[-0.41,2.83],[-0.87,2.44],[-0.78,2.44],[-0.70,2.44],
  [-0.87,2.24],[-0.75,2.24],[-0.55,2.20],[-0.41,2.20],[-0.87,1.96],[-0.70,1.96],[-0.46,1.99],
  [-0.26,1.99],[-0.87,1.81],[-0.67,1.81],[-0.87,1.60],[-0.67,1.60],[-0.87,1.45],[-0.67,1.45],
  [-0.43,1.00],[-0.26,1.00],[-0.55,0.16],[-0.41,0.16],[-0.41,-0.20]
];

// ---- layout of the six panels (plot area in page pixels) ----
const panels = [
  { area: [88, 98, 318, 320], title: 'CD56-CD16.001', titleShift: -15, titleUp: 12, xTitle: 'CD16- FITC', xTitleDown: 31, tickTop: 13, box: true,
    gates: pbCd16Gates, core: pbCd16Core, dense: pbCd16Dense, dots: pbCd16Dots, off: pbCd16Off,
    labels: [['1a', 0.78, 2.88], ['2a', 3.57, 1.47], ['3a', 3.19, 0.42]] },
  { area: [430, 98, 662, 320], title: 'CD56-CD69.001', titleShift: -34, titleUp: 13, xTitle: 'CD69 FITC', xTitleDown: 25, tickTop: 12, box: false,
    gates: pbCd69Gates, core: pbCd69Core, dense: pbCd69Dense, dots: pbCd69Dots, off: pbCd69Off,
    labels: [['4a', 3.34, 2.94], ['5a', 3.34, 1.47]] },
  { area: [770, 98, 1000, 320], title: 'CD56-CD34.001', titleShift: -20, titleUp: 13, xTitle: 'CD34 FITC', xTitleDown: 29, tickTop: 13, box: false,
    gates: pbCd34Gates, core: pbCd34Core, dense: pbCd34Dense, dots: pbCd34Dots, off: pbCd34Off,
    labels: [['6a', 3.16, 2.94], ['7a', 3.16, 1.47]] },
  { area: [88, 508, 318, 730], title: 'CD56-CD16.002', titleShift: -15, titleUp: 13, xTitle: 'CD16- FITC', xTitleDown: 42, tickTop: 20, box: true,
    gates: dtCd16Gates, core: dtCd16Core, dense: dtCd16Dense, dots: dtCd16Dots, off: dtCd16Off,
    labels: [['1b', 0.79, 3.33], ['2b', 3.6, 1.44], ['3b', 3.19, 0.39]] },
  { area: [430, 510, 662, 731], title: 'CD56-CD69.002', titleShift: -22, titleUp: 12, xTitle: 'CD69 FITC', xTitleDown: 25, tickTop: 11, box: true,
    gates: dtCd69Gates, core: dtCd69Core, dense: dtCd69Dense, dots: dtCd69Dots, off: dtCd69Off,
    labels: [['4b', 3.34, 2.94], ['5b', 3.37, 1.43]] },
  { area: [770, 508, 1000, 731], title: 'CD56-CD34.002', titleShift: -20, titleUp: 11, xTitle: 'CD34 FITC', xTitleDown: 26, tickTop: 12, box: true,
    gates: dtCd34Gates, core: dtCd34Core, dense: dtCd34Dense, dots: dtCd34Dots, off: dtCd34Off,
    labels: [['6b', 3.57, 2.65], ['7b', 3.57, 1.54]] }
];

const M = { left: 60, top: 32, right: 24, bottom: 58 };
const Y_AXIS_W = 8, X_AXIS_H = 26;
const OFF_INDEX = 6;

const dec = v => Math.pow(10, v);
const toPoints = list => list.map(([lx, ly]) => ({ x: dec(lx), y: dec(ly) }));
const isDecade = v => Math.abs(Math.log10(v) - Math.round(Math.log10(v))) < 1e-6;

function gateLine(data) {
  return { data, showLine: true, borderColor: '#000', borderWidth: 1.5, pointRadius: 0, order: 0 };
}

function events(list, r, style) {
  return {
    data: toPoints(list), pointRadius: r, pointStyle: style,
    pointBackgroundColor: '#000', pointBorderColor: '#000', pointBorderWidth: 0, order: 1
  };
}

function decor(p) {
  return {
    id: 'decor',
    afterDatasetsDraw(chart) {
      // off-scale events sit left of the axis, outside the plot area
      const wide = { left: -1e4, top: -1e4, right: 1e4, bottom: 1e4 };
      chart.getDatasetMeta(OFF_INDEX).data.forEach(pt => pt.draw(chart.ctx, wide));
    },
    afterDraw(chart) {
      const { ctx, chartArea: a, scales: { x, y } } = chart;
      const mid = (a.left + a.right) / 2;
      ctx.save();
      ctx.strokeStyle = '#000';
      ctx.lineWidth = 2;
      ctx.beginPath();
      ctx.moveTo(a.right, a.bottom);
      ctx.lineTo(a.right, a.top);
      if (p.box) ctx.lineTo(a.left, a.top);
      ctx.stroke();

      ctx.fillStyle = '#000';
      ctx.textAlign = 'center';
      ctx.textBaseline = 'middle';
      ctx.letterSpacing = '3px';
      ctx.font = '11px "Liberation Sans", Arial, sans-serif';
      ctx.fillText(p.title, mid + p.titleShift, a.top - p.titleUp);
      ctx.fillText(p.xTitle, mid + 3, a.bottom + p.xTitleDown);

      // decade labels: 10 with a raised exponent
      ctx.textBaseline = 'top';
      decades.forEach((v, i) => {
        const px = x.getPixelForValue(v);
        const top = a.bottom + p.tickTop - 2;
        ctx.letterSpacing = '1px';
        ctx.font = 'bold 10px "Liberation Sans", Arial, sans-serif';
        ctx.textAlign = 'center';
        ctx.fillText('10', px, top);
        ctx.letterSpacing = '0px';
        ctx.font = 'bold 9px "Liberation Sans", Arial, sans-serif';
        ctx.textAlign = 'left';
        ctx.fillText(xTickExponents[i], px + 8, top - 5);
      });

      ctx.textAlign = 'center';
      ctx.textBaseline = 'middle';
      ctx.letterSpacing = '2px';
      ctx.font = '20px "Liberation Serif", serif';
      p.labels.forEach(([t, lx, ly]) => {
        ctx.fillText(t, x.getPixelForValue(dec(lx)), y.getPixelForValue(dec(ly)));
      });
      ctx.restore();
    }
  };
}

panels.forEach(p => {
  const [l, t, r, b] = p.area;
  const cv = document.createElement('canvas');
  cv.width = r - l + M.left + M.right;
  cv.height = b - t + M.top + M.bottom;
  cv.style.left = (l - M.left) + 'px';
  cv.style.top = (t - M.top) + 'px';
  document.body.appendChild(cv);

  const [gx, gLow, gHigh] = p.gates;
  new Chart(cv, {
    type: 'scatter',
    data: {
      datasets: [
        gateLine([{ x: gx, y: 1 }, { x: gx, y: 10000 }]),
        gateLine([{ x: 1, y: gLow }, { x: 10000, y: gLow }]),
        gateLine([{ x: 1, y: gHigh }, { x: 10000, y: gHigh }]),
        events(p.core, 6.5, 'circle'),
        events(p.dense, 2.8, 'rect'),
        events(p.dots, 1.8, 'rect'),
        events(p.off, 1.4, 'rect')
      ]
    },
    options: {
      responsive: false,
      animation: false,
      events: [],
      layout: { padding: { left: M.left - Y_AXIS_W, top: M.top, right: M.right, bottom: M.bottom - X_AXIS_H } },
      plugins: { legend: { display: false }, tooltip: { enabled: false } },
      scales: {
        x: {
          type: 'logarithmic', min: 1, max: 10000,
          afterFit: s => { s.height = X_AXIS_H; },
          border: { color: '#000', width: 2 },
          grid: { drawOnChartArea: false, color: '#000', tickLength: 4,
                  tickWidth: c => (c.tick && isDecade(c.tick.value) ? 1.5 : 1) },
          ticks: { display: false, autoSkip: false }
        },
        y: {
          type: 'logarithmic', min: 1, max: 10000,
          afterFit: s => { s.width = Y_AXIS_W; },
          afterBuildTicks: s => { s.ticks = decades.map(v => ({ value: v })); },
          border: { color: '#000', width: 2 },
          grid: { drawOnChartArea: false, color: '#000', tickLength: 5 },
          ticks: { display: false }
        }
      }
    },
    plugins: [decor(p)]
  });
});
</script>
</body>
</html>
